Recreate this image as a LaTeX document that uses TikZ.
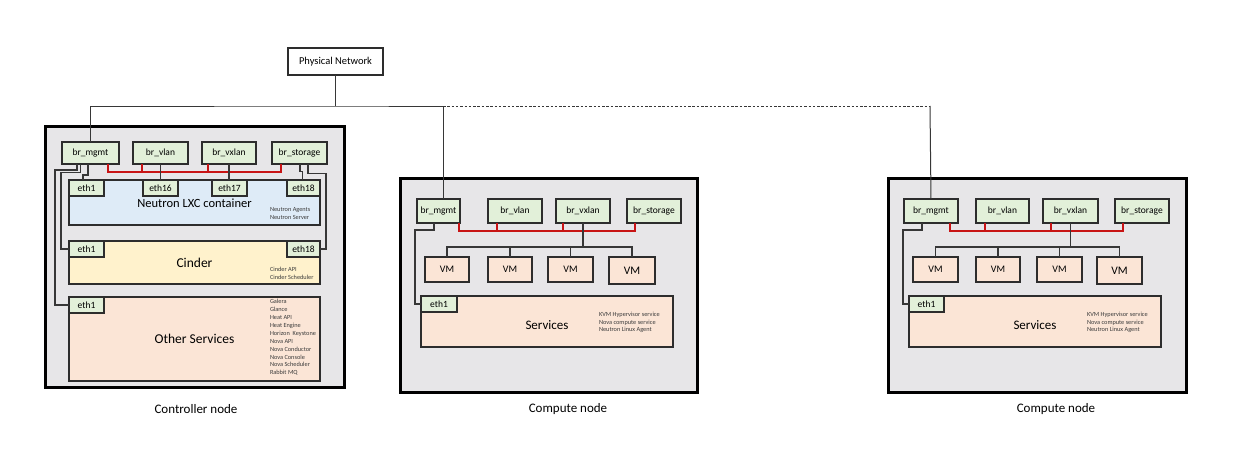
\documentclass[tikz,border=0pt]{standalone}
\usepackage{fontspec}
\setmainfont{Carlito}
\definecolor{outerfill}{RGB}{231,230,232}
\definecolor{brgreen}{RGB}{226,240,217}
\definecolor{lxcblue}{RGB}{222,235,247}
\definecolor{cinderyel}{RGB}{255,242,204}
\definecolor{peach}{RGB}{251,229,214}
\definecolor{boxline}{RGB}{45,45,45}
\definecolor{wire}{RGB}{55,55,55}
\definecolor{redwire}{RGB}{200,20,20}
\definecolor{notegray}{RGB}{60,60,60}
\begin{document}
\begin{tikzpicture}[x=1pt,y=-1pt,
  every node/.style={inner sep=0pt, outer sep=0pt},
  hostbox/.style={draw=black, fill=outerfill, line width=3},
  bridge/.style={draw=boxline, fill=brgreen, line width=1.3, minimum height=22, font=\fontsize{9.5}{10}\selectfont},
  ethbox/.style={draw=boxline, fill=brgreen, line width=1.3, minimum width=35, minimum height=16, font=\fontsize{9.5}{10}\selectfont},
  svcbox/.style={draw=boxline, line width=1.3},
  vmbox/.style={draw=boxline, fill=peach, line width=1.3, minimum height=25, minimum width=44, font=\fontsize{10}{10}\selectfont},
  note/.style={anchor=west, align=left, text=notegray},
  wireline/.style={draw=wire, line width=1.2},
  upline/.style={draw=wire, line width=1.0},
  redline/.style={draw=redwire, line width=1.3},
  caption/.style={font=\fontsize{13}{15}\selectfont}
]
\useasboundingbox (0,0) rectangle (1243,474);

% Physical network
\node[draw=boxline, fill=white, line width=1.2, minimum width=95, minimum height=27, font=\fontsize{10.5}{12}\selectfont] (pn) at (335.5,61.5) {Physical Network};
\coordinate (j0) at (335.5,106);
\coordinate (j1) at (443,106);
\coordinate (j2) at (930,106);

% ================= Controller node =================
\node[hostbox, minimum width=299, minimum height=261] (ctl) at (194.5,256.5) {};
\node[bridge, minimum width=57] (cmgmt) at (90.5,153) {br\_mgmt};
\node[bridge, minimum width=55] (cvlan) at (160.5,153) {br\_vlan};
\node[bridge, minimum width=54] (cvxlan) at (229,153) {br\_vxlan};
\node[bridge, minimum width=55] (cstor) at (299.5,153) {br\_storage};

\node[svcbox, fill=lxcblue, minimum width=251, minimum height=45, font=\fontsize{12.5}{14}\selectfont, text height=10pt, text depth=0pt] (neutron) at (194.5,202.5) {Neutron LXC container};
\node[ethbox] (neth1) at (86.5,188) {eth1};
\node[ethbox] (neth16) at (160.5,188) {eth16};
\node[ethbox] (neth17) at (229.5,188) {eth17};
\node[ethbox, minimum width=33] (neth18) at (303.5,188) {eth18};
\node[note, font=\fontsize{6.3}{8.5}\selectfont] (nnote) at (270,213.5) {Neutron Agents\\Neutron Server};

\node[svcbox, fill=cinderyel, minimum width=251, minimum height=43, font=\fontsize{13.5}{15}\selectfont] (cinder) at (194.5,262.5) {Cinder};
\node[ethbox] (ceth1) at (86.5,249) {eth1};
\node[ethbox, minimum width=33] (ceth18) at (303.5,249) {eth18};
\node[note, font=\fontsize{6.3}{8}\selectfont] (cnote) at (270,273) {Cinder API\\Cinder Scheduler};

\node[svcbox, fill=peach, minimum width=251, minimum height=84, font=\fontsize{13.5}{15}\selectfont] (other) at (194.5,339) {Other Services};
\node[ethbox] (oeth1) at (86.5,305) {eth1};
\node[note, font=\fontsize{6.3}{7.9}\selectfont] (onote) at (270,337.5) {Galera\\Glance\\Heat API\\Heat Engine\\Horizon~ Keystone\\Nova API\\Nova Conductor\\Nova Console\\Nova Scheduler\\Rabbit MQ};

% controller wires
\draw[redline] (cmgmt.south -| 108,0) -- (108,172) -- (281,172) -- (cstor.south -| 281,0);
\draw[redline] (cvlan.south -| 142,0) -- (142,172);
\draw[redline] (cvxlan.south -| 208,0) -- (208,172);
\draw[wireline] (cvlan.south) -- (neth16.north -| cvlan.south);
\draw[wireline] (cvxlan.south) -- (neth17.north -| cvxlan.south);
\draw[wireline] (cmgmt.south -| 77,0) |- (55,170) |- (oeth1.west);
\draw[wireline] (cmgmt.south -| 80.5,0) |- (61,172.5) |- (ceth1.west);
\draw[wireline] (cmgmt.south -| 88,0) |- (83,175) -- (neth1.north -| 83,0);
\draw[wireline] (cstor.south -| 300,0) |- (302.5,171.5) -- (neth18.north -| 302.5,0);
\draw[wireline] (cstor.south -| 308,0) |- (326,173.5) |- (ceth18.east);

% ================= Compute node 1 =================
\node[hostbox, minimum width=297, minimum height=214] (k1) at (548.5,285) {};
\node[bridge, minimum width=43, minimum height=24] (k1mgmt) at (438.5,211) {br\_mgmt};
\node[bridge, minimum width=54, minimum height=24] (k1vlan) at (515,211) {br\_vlan};
\node[bridge, minimum width=54, minimum height=24] (k1vxlan) at (583,211) {br\_vxlan};
\node[bridge, minimum width=54, minimum height=24] (k1stor) at (654,211) {br\_storage};
\node[vmbox] (k1vm1) at (447,269.5) {VM};
\node[vmbox] (k1vm2) at (510,269.5) {VM};
\node[vmbox, minimum width=45] (k1vm3) at (570.5,269.5) {VM};
\node[vmbox, minimum width=46, minimum height=27, font=\fontsize{11.5}{12}\selectfont] (k1vm4) at (632,270.5) {VM};
\node[svcbox, fill=peach, minimum width=252, minimum height=51, font=\fontsize{13}{15}\selectfont, text height=16pt, text depth=0pt] (k1svc) at (547,321.5) {Services};
\node[ethbox, minimum width=36] (k1eth1) at (439,304) {eth1};
\node[note, font=\fontsize{6.3}{7.5}\selectfont] (k1note) at (599,322.5) {KVM Hypervisor service\\Nova compute service\\Neutron Linux Agent};

\draw[redline] (k1mgmt.south -| 459,0) -- (459,231) -- (635,231) -- (k1stor.south -| 635,0);
\draw[redline] (k1vlan.south -| 497,0) -- (497,231);
\draw[redline] (k1vxlan.south -| 563,0) -- (563,231);
\draw[wireline] (k1vxlan.south) -- (583,247);
\draw[wireline] (k1vm1.north) |- (583,247) -| (k1vm4.north);
\draw[wireline] (k1vm2.north) -- (k1vm2.north |- 0,247);
\draw[wireline] (k1vm3.north) -- (k1vm3.north |- 0,247);
\draw[wireline] (k1mgmt.south -| 434,0) |- (415,230) |- (k1eth1.west);

% ================= Compute node 2 =================
\node[hostbox, minimum width=298, minimum height=214] (k2) at (1037,285) {};
\node[bridge, minimum width=54, minimum height=24] (k2mgmt) at (931,211) {br\_mgmt};
\node[bridge, minimum width=53, minimum height=24] (k2vlan) at (1002.5,211) {br\_vlan};
\node[bridge, minimum width=55, minimum height=24] (k2vxlan) at (1070.5,211) {br\_vxlan};
\node[bridge, minimum width=54, minimum height=24] (k2stor) at (1142,211) {br\_storage};
\node[vmbox, minimum width=45] (k2vm1) at (935.5,269.5) {VM};
\node[vmbox] (k2vm2) at (998,269.5) {VM};
\node[vmbox, minimum width=45] (k2vm3) at (1059.5,269.5) {VM};
\node[vmbox, minimum width=45, minimum height=27, font=\fontsize{11.5}{12}\selectfont] (k2vm4) at (1119.5,270.5) {VM};
\node[svcbox, fill=peach, minimum width=252, minimum height=51, font=\fontsize{13}{15}\selectfont, text height=16pt, text depth=0pt] (k2svc) at (1035,321.5) {Services};
\node[ethbox] (k2eth1) at (926.5,304) {eth1};
\node[note, font=\fontsize{6.3}{7.5}\selectfont] (k2note) at (1087,322.5) {KVM Hypervisor service\\Nova compute service\\Neutron Linux Agent};

\draw[redline] (k2mgmt.south -| 950,0) -- (950,231) -- (1123,231) -- (k2stor.south -| 1123,0);
\draw[redline] (k2vlan.south -| 985,0) -- (985,231);
\draw[redline] (k2vxlan.south -| 1051,0) -- (1051,231);
\draw[wireline] (k2vxlan.south) -- (1070.5,247);
\draw[wireline] (k2vm1.north) |- (1070.5,247) -| (k2vm4.north);
\draw[wireline] (k2vm2.north) -- (k2vm2.north |- 0,247);
\draw[wireline] (k2vm3.north) -- (k2vm3.north |- 0,247);
\draw[wireline] (k2mgmt.south -| 922,0) |- (903,230) |- (k2eth1.west);

% ================= Uplinks =================
\draw[upline] (pn.south) -- (j0);
\draw[upline] (cmgmt.north) |- (j0) -- (j1) -- (k1mgmt.north -| j1);
\draw[upline, line width=0.8, dash pattern=on 2.5pt off 1.8pt] (j1) -- (j2);
\draw[upline] (j2) -- (k2mgmt.north);

% captions
\node[caption] (cap1) at (196,409) {Controller node};
\node[caption] (cap2) at (568,409) {Compute node};
\node[caption] (cap3) at (1056,409) {Compute node};
\end{tikzpicture}
\end{document}
